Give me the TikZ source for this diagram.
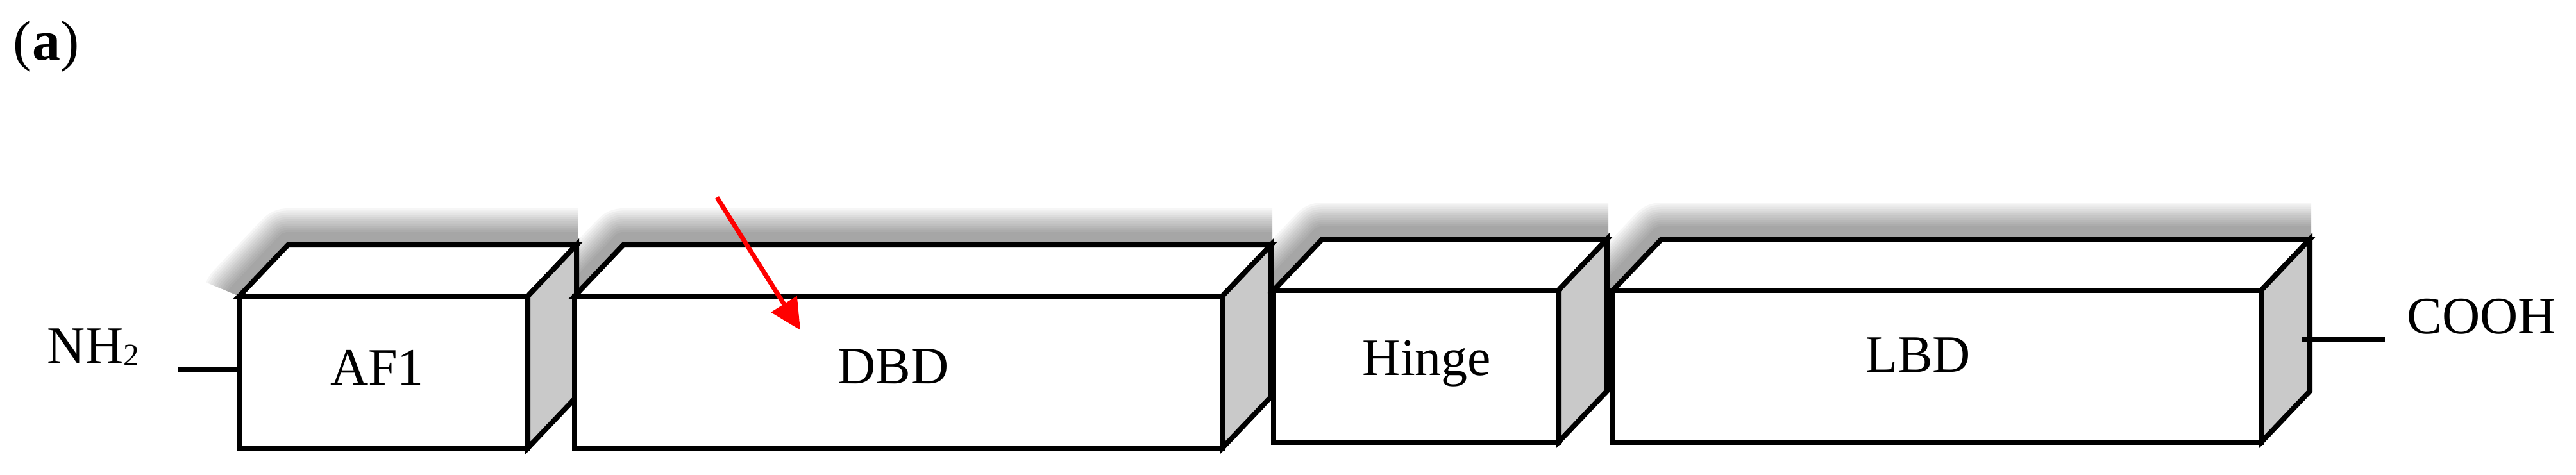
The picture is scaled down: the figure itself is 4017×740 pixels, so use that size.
\documentclass[tikz,border=0pt]{standalone}
\usepackage{fontspec}
\setmainfont{Liberation Serif}
\usetikzlibrary{arrows.meta,fit,calc}
\tikzset{
  frontface/.style={draw, fill=white, line width=2pt, inner sep=0pt, line join=miter},
  sideface/.style={draw, fill=black!21, line width=2pt, line join=miter},
  topface/.style={draw, fill=white, line width=2pt, line join=miter},
  lbl/.style={font=\fontsize{20.5}{24}\selectfont, inner sep=0pt, anchor=base},
  pointer/.style={draw=red, line width=1.8pt, -{Triangle[length=12pt,width=11.5pt,fill=red]}},
  stub/.style={line width=2pt},
  shadowlayer/.style={draw=black, draw opacity=0.036, line join=round},
}
% blurred shadow of a top face: #1 = x0, #2 = y0 (front top), #3 = x1
\newcommand\topshadow[3]{%
  \begin{scope}
    \clip (#1,#2) -- (#1-130,#2-54) -- (#1-130,#2-230) -- (#3+78,#2-230) -- (#3+78,#2) -- cycle;
    \foreach \k in {0,...,11}{%
      \pgfmathsetmacro\w{0.5*(18+37*\k/11)}%
      \draw[shadowlayer, line width=\w pt]
        (#1,#2-2) -- (#1+76,#2-82) -- (#3+76,#2-82) -- (#3,#2-2) -- cycle;
    }%
  \end{scope}%
}
% cuboid: #1 name, #2 x0, #3 y0, #4 x1, #5 y1
\newcommand\cuboid[5]{%
  \draw[topface] (#2,#3) -- (#2+76,#3-80) -- (#4+76,#3-80) -- (#4,#3) -- cycle;
  \draw[sideface] (#4,#3) -- (#4+76,#3-80) -- (#4+76,#5-80) -- (#4,#5) -- cycle;
  \node[frontface, fit={(#2,#3) (#4,#5)}] (#1) {};
}
\begin{document}
\begin{tikzpicture}[x=0.25pt, y=-0.25pt]
\useasboundingbox (0,0) rectangle (4017,740);
% shadows
\topshadow{373}{462}{823}
\topshadow{896}{462}{1906}
\topshadow{1986}{453}{2430}
\topshadow{2515}{453}{3526}
% boxes
\cuboid{af1}{373}{462}{823}{699}
\cuboid{dbd}{896}{462}{1906}{699}
\cuboid{hinge}{1986}{453}{2430}{690}
\cuboid{lbd}{2515}{453}{3526}{690}
% labels
\node[lbl, anchor=base west, font=\fontsize{22}{26}\selectfont] (panel) at (20,93) {(\textbf{a})};
\node[lbl, anchor=base west] (nh2) at (73,566) {NH\raisebox{-1.2pt}{\fontsize{12.3}{14}\selectfont 2}};
\node[lbl] (af1t) at (588,600) {AF1};
\node[lbl] (dbdt) at (1393,598) {DBD};
\node[lbl] (hinget) at (2225,585) {Hinge};
\node[lbl] (lbdt) at (2991,580) {LBD};
\node[lbl, anchor=base west] (cooh) at (3753,520) {COOH};
% terminal stubs
\coordinate (nhstub) at (277,576);
\draw[stub] (nhstub) -- (nhstub -| af1.west);
\coordinate (lbdside) at (3590,529);
\coordinate (coohstub) at (3719,529);
\draw[stub] (lbdside) -- (coohstub);
% red arrow
\coordinate (arrtail) at (1118,308);
\coordinate (arrtip) at (1248,515);
\draw[pointer] (arrtail) -- (arrtip);
\end{tikzpicture}
\end{document}
